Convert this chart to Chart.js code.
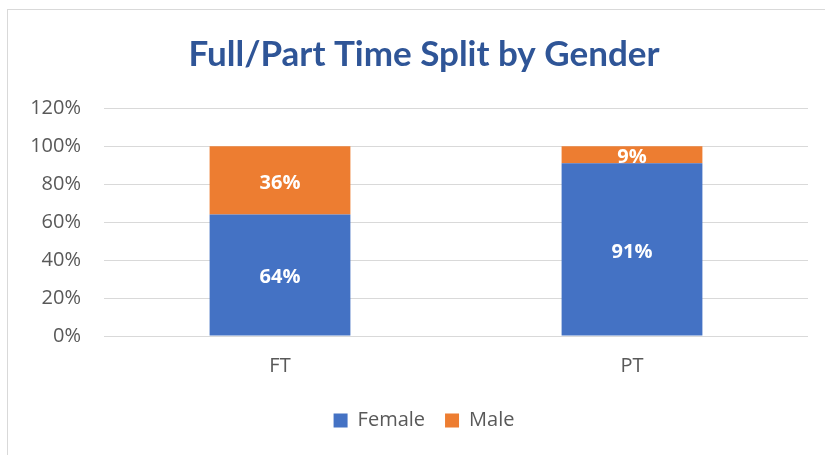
<!DOCTYPE html>
<html>
<head>
<meta charset="utf-8">
<script src="https://cdn.jsdelivr.net/npm/chart.js@4.4.1/dist/chart.umd.min.js"></script>
<style>
  html, body { margin: 0; padding: 0; background: #ffffff; }
  #frame { position: absolute; left: 7px; top: 9px; width: 840px; height: 470px; border: 1px solid #d9d9d9; box-sizing: border-box; }
  #wrap { position: absolute; left: 0; top: 0; width: 825px; height: 455px; }
</style>
</head>
<body>
<div id="frame"></div>
<div id="wrap"><canvas id="c" width="825" height="455"></canvas></div>
<script>
const categories = ['FT', 'PT'];
const femaleValues = [0.64, 0.91];
const maleValues = [0.36, 0.09];
const seriesNames = ['Female', 'Male'];
const yTicks = [0, 0.2, 0.4, 0.6, 0.8, 1.0, 1.2];
const titleText = 'Full/Part Time Split by Gender';

const AXIS_FONT = "'Open Sans', 'Liberation Sans', sans-serif";
const TITLE_FONT = "Lato, 'Open Sans', sans-serif";

const barLabels = {
  id: 'barLabels',
  afterDatasetsDraw(chart) {
    const ctx = chart.ctx;
    ctx.save();
    ctx.fillStyle = '#ffffff';
    ctx.font = "bold 20px " + AXIS_FONT;
    ctx.textAlign = 'center';
    ctx.textBaseline = 'middle';
    chart.data.datasets.forEach((ds, i) => {
      const meta = chart.getDatasetMeta(i);
      meta.data.forEach((el, j) => {
        const v = ds.data[j];
        const cy = (el.y + el.base) / 2 + 2.5;
        ctx.fillText(Math.round(v * 100) + '%', el.x, cy);
      });
    });
    ctx.restore();
  }
};

new Chart(document.getElementById('c'), {
  type: 'bar',
  data: {
    labels: categories,
    datasets: [
      { label: seriesNames[0], data: femaleValues, backgroundColor: '#4472C4', borderWidth: 0 },
      { label: seriesNames[1], data: maleValues, backgroundColor: '#ED7D31', borderWidth: 0 }
    ]
  },
  options: {
    responsive: false,
    animation: false,
    devicePixelRatio: 1,
    layout: { padding: { left: 0, right: -23, top: 0, bottom: 14.5 } },
    datasets: { bar: { categoryPercentage: 0.8, barPercentage: 0.5 } },
    plugins: {
      title: {
        display: true,
        text: titleText,
        color: '#2F5597',
        font: { family: TITLE_FONT, size: 35, weight: 'bold' },
        padding: { top: 33.3, bottom: 32.9 }
      },
      legend: {
        position: 'bottom',
        labels: {
          boxWidth: 14, boxHeight: 14, padding: 20,
          color: '#595959',
          font: { family: AXIS_FONT, size: 20 }
        }
      },
      tooltip: { enabled: false }
    },
    scales: {
      x: {
        stacked: true,
        grid: { display: false, drawTicks: false },
        border: { display: false },
        ticks: { color: '#595959', padding: 18, font: { family: AXIS_FONT, size: 20 } },
        afterFit(scale) { scale.height = 54.5; }
      },
      y: {
        stacked: true,
        min: 0, max: 1.2,
        afterBuildTicks(scale) { scale.ticks = yTicks.map(v => ({ value: v })); },
        grid: { color: '#d9d9d9', lineWidth: 1, drawTicks: false },
        border: { display: false },
        ticks: {
          color: '#595959', padding: 23,
          font: { family: AXIS_FONT, size: 20 },
          callback: v => Math.round(v * 100) + '%'
        },
        afterFit(scale) { scale.width = 104; }
      },
      yRightSpace: {
        position: 'right',
        min: 0, max: 1.2,
        grid: { display: false, drawTicks: false },
        border: { display: false },
        ticks: { display: false },
        afterFit(scale) { scale.width = 40; }
      }
    }
  },
  plugins: [barLabels]
});
</script>
</body>
</html>
